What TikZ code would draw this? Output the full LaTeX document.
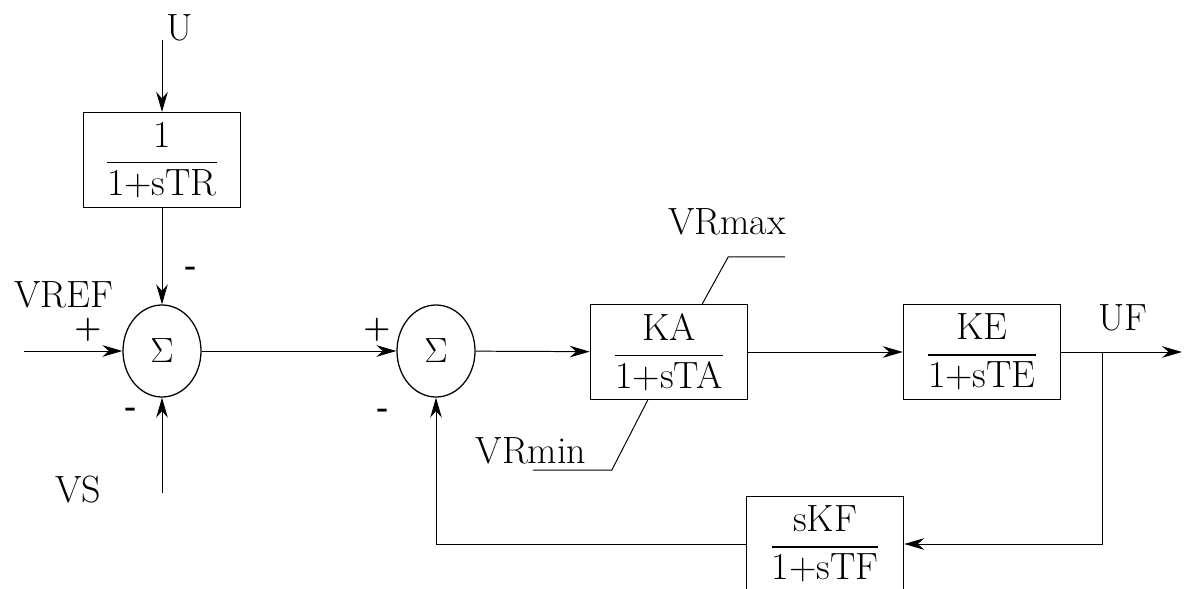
\documentclass[tikz,border=0pt]{standalone}
\usepackage{amsmath}
\usetikzlibrary{arrows.meta, shapes.geometric}

\newcommand{\blockfrac}[2]{$\dfrac{\mbox{#1}}{\mbox{#2}}$}

\begin{document}
\begin{tikzpicture}[x=0.025cm, y=-0.025cm,
  font=\fontsize{27}{32}\selectfont,
  line width=0.7pt,
  >={Stealth[length=5mm, width=2.9mm]},
  block/.style={draw, line width=0.9pt, minimum width=3.93cm, minimum height=2.37cm, inner sep=0pt},
  sumnode/.style={draw, ellipse, line width=0.9pt, minimum width=1.95cm, minimum height=2.3cm, inner sep=0pt},
  sign/.style={font=\fontsize{22}{26}\selectfont\bfseries, inner sep=0pt}]
\useasboundingbox (0,0) rectangle (1189,589);

\node[block] (tr) at (162,160) {\blockfrac{1}{1+sTR}};
\node[sumnode] (sum1) at (162,351) {$\Sigma$};
\node[sumnode] (sum2) at (436,351) {$\Sigma$};
\node[block] (ka) at (669,352) {\blockfrac{KA}{1+sTA}};
\node[block] (ke) at (982,352) {\blockfrac{KE}{1+sTE}};
\node[block] (kf) at (825,544) {\blockfrac{sKF}{1+sTF}};

\node (u) at (180,28) {U};
\node (vref) at (64,295) {VREF};
\node (vs) at (78,490) {VS};
\node (uf) at (1123,318) {UF};
\node (vrmax) at (727,222) {VRmax};
\node (vrmin) at (531,451) {VRmin};

\node[sign] (p1) at (88,330) {+};
\node[sign] (m1) at (191,271) {-};
\node[sign] (m2) at (131,412) {-};
\node[sign] (p2) at (377,330) {+};
\node[sign] (m3) at (383,413) {-};

\coordinate (uin) at (162,40);
\coordinate (vrefin) at (24,351);
\coordinate (vsin) at (162,493);
\coordinate (br) at (1102,352);
\coordinate (out) at (1182,352);

\draw[->] (uin) -- (tr);
\draw[->] (tr) -- (sum1);
\draw[->] (vrefin) -- (sum1);
\draw[->] (vsin) -- (sum1);
\draw[->] (sum1) -- (sum2);
\draw[->] (sum2) -- (ka);
\draw[->] (ka) -- (ke);
\draw[->] (ke) -- (out);
\draw[->] (br) |- (kf);
\draw[->] (kf) -| (sum2);

\draw ([xshift=0.83cm]ka.north) -- ++(26,-47) -- ++(57,0);
\draw ([xshift=-0.53cm]ka.south) -- ++(-36,70) -- ++(-79,0);
\end{tikzpicture}
\end{document}
